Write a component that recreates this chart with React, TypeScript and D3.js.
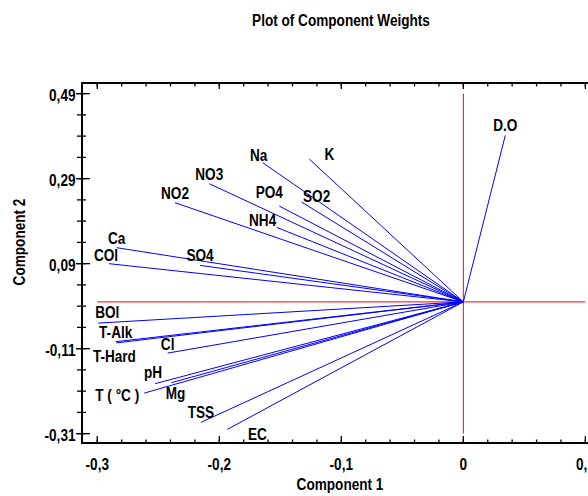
import React from 'react';
import * as d3 from 'd3';

// component weights
const variables = ['D.O', 'K', 'Na', 'NO3', 'NO2', 'PO4', 'SO2', 'NH4', 'SO4', 'Ca', 'COl', 'BOl', 'T-Alk', 'T-Hard', 'Cl', 'pH', 'Mg', 'T ( °C )', 'TSS', 'EC'];
const component1 = [0.0344, -0.1262, -0.1644, -0.2082, -0.2363, -0.1508, -0.1325, -0.153, -0.2158, -0.2841, -0.2904, -0.2992, -0.2849, -0.2843, -0.2423, -0.2527, -0.2392, -0.2615, -0.215, -0.1934];
const component2 = [0.3918, 0.336, 0.3275, 0.2781, 0.2334, 0.2254, 0.2348, 0.1753, 0.0859, 0.1275, 0.0899, -0.0499, -0.0936, -0.0965, -0.1205, -0.1925, -0.1901, -0.2146, -0.2835, -0.3];

const xMajorTicks = [-0.3, -0.2, -0.1, 0, 0.1];
const xTickLabels = ['-0,3', '-0,2', '-0,1', '0', '0,1'];
const yMajorTicks = [-0.31, -0.11, 0.09, 0.29, 0.49];
const yTickLabels = ['-0,31', '-0,11', '0,09', '0,29', '0,49'];

// label placement relative to the end of each vector (default: centred, just above)
const labelNudge: Record<string, [number, number]> = {
  'K': [20, 1],
  'Na': [-4, -2],
  'PO4': [-10, -8],
  'SO2': [15, 0],
  'NH4': [-14, -1],
  'COl': [-3, -3],
  'BOl': [9, -5],
  'T-Hard': [-2, 19],
  'Cl': [0, -3],
  'pH': [-2, -6],
  'Mg': [4, 16],
  'T ( °C )': [-27, 8],
  'EC': [30, 11],
};

const W = 588;
const H = 496;
const left = 82, right = 600, top = 83, bottom = 443;
const FONT = '"Liberation Sans", Arial, sans-serif';
const SQ = 0.8; // narrow bold look

const T = ({ x, y, children, anchor = 'middle', rotate = 0 }: any) => (
  <text
    transform={`translate(${x},${y}) rotate(${rotate}) scale(${SQ},1)`}
    textAnchor={anchor}
    fontFamily={FONT}
    fontWeight="bold"
    fontSize={17}
    fill="#000"
  >
    {children}
  </text>
);

export default function App() {
  const x = d3.scaleLinear().domain([-0.3125, 0.112]).range([left, right]);
  const y = d3.scaleLinear().domain([-0.332, 0.515]).range([bottom, top]);

  const xMinor = d3.range(-0.3, 0.1001, 0.02);
  const yMinor = d3.range(-0.31, 0.4901, 0.05);

  const x0 = x(0);
  const y0 = y(0);

  return (
    <svg width={W} height={H} style={{ position: 'absolute', left: 0, top: 0 }}>
      <rect width={W} height={H} fill="#fff" />

      <T x={341} y={25.5}>Plot of Component Weights</T>

      {/* red reference lines */}
      <line x1={x(-0.3)} x2={x(0.1)} y1={y0} y2={y0} stroke="#ff0000" strokeWidth={1} />
      <line x1={x0} x2={x0} y1={y(0.49)} y2={y(-0.31)} stroke="#ff0000" strokeWidth={1} />

      {/* vectors */}
      {variables.map((v, i) => (
        <line key={v} x1={x0} y1={y0} x2={x(component1[i])} y2={y(component2[i])} stroke="#0000ff" strokeWidth={1} />
      ))}
      {variables.map((v, i) => {
        const [dx, dy] = labelNudge[v] || [0, -4];
        return (
          <T key={v} x={x(component1[i]) + dx} y={y(component2[i]) + dy}>{v}</T>
        );
      })}

      {/* frame */}
      <rect x={left} y={top} width={right - left} height={bottom - top} fill="none" stroke="#000" strokeWidth={2} />

      {/* x ticks: bottom (inward) and top (inward) */}
      {xMinor.map((t, i) => (
        <g key={'xm' + i}>
          <line x1={x(t)} x2={x(t)} y1={bottom} y2={bottom - 3.5} stroke="#000" strokeWidth={1.3} />
          <line x1={x(t)} x2={x(t)} y1={top} y2={top + 3.5} stroke="#000" strokeWidth={1.3} />
        </g>
      ))}
      {xMajorTicks.map((t, i) => (
        <g key={'xM' + i}>
          <line x1={x(t)} x2={x(t)} y1={bottom} y2={bottom - 7} stroke="#000" strokeWidth={1.3} />
          <line x1={x(t)} x2={x(t)} y1={top} y2={top + 6} stroke="#000" strokeWidth={1.3} />
          <T x={x(t)} y={469.5}>{xTickLabels[i]}</T>
        </g>
      ))}

      {/* y ticks: left, crossing the axis */}
      {yMinor.map((t, i) => (
        <line key={'ym' + i} x1={left - 5} x2={left + 4} y1={y(t)} y2={y(t)} stroke="#000" strokeWidth={1.3} />
      ))}
      {yMajorTicks.map((t, i) => (
        <g key={'yM' + i}>
          <line x1={left - 6} x2={left + 8} y1={y(t)} y2={y(t)} stroke="#000" strokeWidth={1.3} />
          <T x={75.5} y={y(t) + 7} anchor="end">{yTickLabels[i]}</T>
        </g>
      ))}

      <T x={340} y={490}>Component 1</T>
      <T x={25} y={242} rotate={-90}>Component 2</T>
    </svg>
  );
}
